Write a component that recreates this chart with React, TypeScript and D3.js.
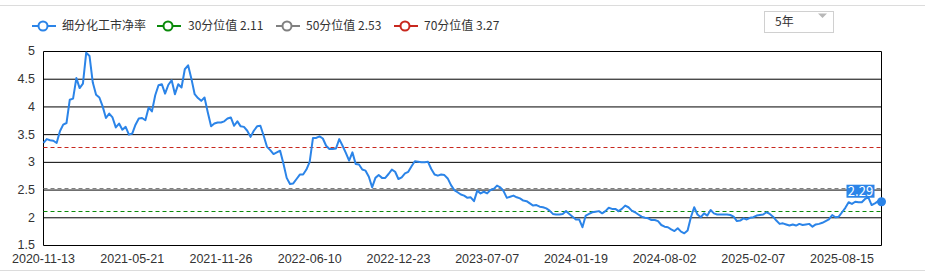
import React from 'react';
import * as d3 from 'd3';

const seriesName = '细分化工市净率';
const values: number[] = [
  3.35, 3.42, 3.40, 3.39, 3.35, 3.56, 3.68, 3.71, 4.13, 4.15, 4.52, 4.34, 4.42, 4.98, 4.92, 4.44, 4.22, 4.17, 4.01, 3.80,
  3.88, 3.81, 3.63, 3.70, 3.59, 3.64, 3.50, 3.52, 3.68, 3.79, 3.80, 3.76, 3.99, 3.92, 4.21, 4.39, 4.41, 4.24,
  4.40, 4.48, 4.23, 4.41, 4.35, 4.68, 4.75, 4.51, 4.23, 4.16, 4.11, 4.17, 3.90, 3.65, 3.70, 3.72, 3.72, 3.74, 3.79, 3.81,
  3.66, 3.74, 3.65, 3.64, 3.57, 3.46, 3.57, 3.65, 3.66, 3.48, 3.28, 3.22, 3.15, 3.18, 3.21,
  2.98, 2.72, 2.61, 2.62, 2.70, 2.78, 2.78, 2.87, 3.01, 3.44, 3.44, 3.47, 3.43, 3.30, 3.24, 3.24, 3.25, 3.42, 3.30, 3.17,
  3.03, 3.18, 2.97, 2.96, 2.87, 2.85, 2.74, 2.55, 2.72, 2.77, 2.72, 2.72, 2.79, 2.87, 2.83, 2.70, 2.73,
  2.80, 2.83, 2.93, 3.02, 3.01, 3.00, 3.00, 3.01, 2.88, 2.78, 2.76, 2.78, 2.77, 2.71, 2.59, 2.50, 2.46, 2.42, 2.40, 2.36,
  2.37, 2.30, 2.49, 2.44, 2.47, 2.44, 2.50, 2.52, 2.58, 2.55, 2.48, 2.36, 2.38, 2.40, 2.37, 2.35, 2.31,
  2.30, 2.26, 2.22, 2.23, 2.20, 2.19, 2.17, 2.13, 2.07, 2.06, 2.06, 2.07, 2.12, 2.07, 2.02, 1.97, 1.97, 1.83, 2.04, 2.07,
  2.10, 2.11, 2.12, 2.08, 2.12, 2.18, 2.16, 2.16, 2.12, 2.16, 2.22, 2.19, 2.13, 2.10, 2.06, 2.02, 2.00,
  1.99, 1.96, 1.96, 1.94, 1.87, 1.84, 1.83, 1.79, 1.76, 1.81, 1.75, 1.72, 1.77, 2.01, 2.19, 2.06, 2.01, 2.08, 2.04, 2.14,
  2.08, 2.06, 2.06, 2.06, 2.06, 2.05, 2.02, 1.94, 1.95, 1.99, 1.97, 2.00, 2.01, 2.04, 2.05, 2.06,
  2.10, 2.07, 2.02, 1.95, 1.89, 1.90, 1.88, 1.86, 1.88, 1.86, 1.89, 1.87, 1.88, 1.89, 1.84, 1.88, 1.89, 1.91, 1.94, 1.97,
  2.05, 2.01, 2.02, 2.10, 2.18, 2.28, 2.25, 2.29, 2.28, 2.28, 2.34, 2.37, 2.23, 2.26, 2.30, 2.29,
];

// x-axis category labels, shown every 27th weekly point
const tickLabels = [
  '2020-11-13', '2021-05-21', '2021-11-26', '2022-06-10', '2022-12-23',
  '2023-07-07', '2024-01-19', '2024-08-02', '2025-02-07', '2025-08-15',
];
const tickEvery = 27;

const refNames = ['30分位值', '50分位值', '70分位值'];
const refValues = [2.11, 2.53, 3.27];
const refColors = ['#0a8a0a', '#808080', '#c8281e'];
const yTicks = [1.5, 2, 2.5, 3, 3.5, 4, 4.5, 5];
const rangeLabel = '5年';

const W = 925;
const H = 271;
const BLUE = '#2b84e8';
const FONT = '"Noto Sans CJK SC", "Noto Sans", sans-serif';
const AXIS_FONT = '"Liberation Sans", Arial, sans-serif';

export default function App() {
  const x = d3.scaleLinear().domain([0, values.length - 1]).range([43.5, 881.5]);
  const y = d3.scaleLinear().domain([1.5, 5]).range([245.5, 51.5]);
  const crisp = (v: number) => Math.floor(v) + 0.5;
  const line = d3
    .line<number>()
    .x((_, i) => x(i))
    .y((d) => y(d));
  const lastI = values.length - 1;
  const lx = x(lastI);
  const ly = y(values[lastI]);

  const legendItems = [
    { name: seriesName, color: BLUE, sx: 32, tx: 62 },
    ...refNames.map((n, i) => ({
      name: `${n} ${refValues[i].toFixed(2)}`,
      color: refColors[i],
      sx: [157, 276, 394][i],
      tx: [188, 306, 424][i],
    })),
  ];

  return (
    <div style={{ position: 'absolute', left: 0, top: 0 }}>
      <svg width={W} height={H} style={{ display: 'block', fontFamily: FONT }}>
        <rect x={0} y={0} width={W} height={H} fill="#fff" />
        <line x1={0} x2={W} y1={5.5} y2={5.5} stroke="#dcdcdc" />
        <line x1={0} x2={W} y1={270.5} y2={270.5} stroke="#dcdcdc" />

        {/* legend */}
        {legendItems.map((it) => (
          <g key={it.name}>
            <line x1={it.sx} x2={it.sx + 24} y1={26} y2={26} stroke={it.color} strokeWidth={2} />
            <circle cx={it.sx + 11} cy={26} r={4.5} fill="#fff" stroke={it.color} strokeWidth={2} />
            <text x={it.tx} y={26} dy="0.35em" fontSize={12} fill="#333">
              {it.name}
            </text>
          </g>
        ))}

        {/* dropdown */}
        <rect x={764.5} y={11.5} width={69} height={21} fill="#fff" stroke="#d0d0d0" />
        <text x={775} y={22} dy="0.35em" fontSize={12} fill="#333">
          {rangeLabel}
        </text>
        <path d="M818,13.5 L827,13.5 L822.5,18 Z" fill="#b8b8b8" />

        {/* grid */}
        {yTicks.map((t) => (
          <g key={t}>
            <line x1={43.5} x2={881.5} y1={y(t)} y2={y(t)} stroke="#000" strokeWidth={1} />
            <text
              x={35}
              y={y(t) - 0.5}
              dy="0.35em"
              textAnchor="end"
              fontSize={12.5}
              fontFamily={AXIS_FONT}
              fill="#333"
            >
              {d3.format('~g')(t)}
            </text>
          </g>
        ))}
        <line x1={43.5} x2={43.5} y1={y(5)} y2={y(1.5)} stroke="#000" />
        <line x1={881.5} x2={881.5} y1={y(5)} y2={y(1.5)} stroke="#000" />

        {tickLabels.map((d, k) => (
          <text
            key={d}
            x={x(k * tickEvery)}
            y={259}
            dy="0.35em"
            textAnchor="middle"
            fontSize={12.5}
            fontFamily={AXIS_FONT}
            fill="#333"
          >
            {d}
          </text>
        ))}

        {/* reference lines */}
        {refValues.map((v, i) => (
          <line
            key={i}
            x1={43.5}
            x2={881.5}
            y1={crisp(y(v))}
            y2={crisp(y(v))}
            stroke={refColors[i]}
            strokeWidth={1}
            strokeDasharray="4,3"
          />
        ))}

        {/* series */}
        <path d={line(values) || ''} fill="none" stroke={BLUE} strokeWidth={2} strokeLinejoin="round" />
        <circle cx={lx} cy={ly} r={4.5} fill={BLUE} />
        <rect x={lx - 35} y={ly - 17} width={28} height={13} fill={BLUE} />
        <text x={lx - 21} y={ly - 10.5} dy="0.35em" textAnchor="middle" fontSize={13} fill="#fff">
          {values[lastI].toFixed(2)}
        </text>
      </svg>
    </div>
  );
}
